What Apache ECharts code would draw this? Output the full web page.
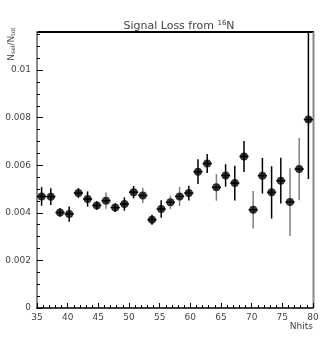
<!DOCTYPE html>
<html><head><meta charset="utf-8">
<script src="https://cdn.jsdelivr.net/npm/echarts@6/dist/echarts.min.js"></script>
<style>html,body{margin:0;padding:0;background:#fff}#c{width:327px;height:349px}</style>
</head><body><div id="c"></div>
<script>
var nhits = [35.75,37.25,38.75,40.25,41.75,43.25,44.75,46.25,47.75,49.25,50.75,52.25,53.75,55.25,56.75,58.25,59.75,61.25,62.75,64.25,65.75,67.25,68.75,70.25,71.75,73.25,74.75,76.25,77.75,79.25];
var ratio = [0.00469,0.00468,0.00401,0.00395,0.00483,0.00458,0.00431,0.00451,0.00422,0.00437,0.00487,0.00473,0.00371,0.00416,0.00444,0.00469,0.00483,0.00573,0.00607,0.00507,0.00557,0.00525,0.00637,0.00413,0.00556,0.00486,0.00535,0.00445,0.00584,0.00792];
var errLow = [0.00039,0.00035,0.00018,0.00032,0.00021,0.00032,0.00018,0.00034,0.00018,0.00028,0.00026,0.00032,0.00021,0.00037,0.00028,0.00040,0.00031,0.00052,0.00040,0.00056,0.00047,0.00073,0.00065,0.00079,0.00075,0.00110,0.00096,0.00142,0.00131,0.00250];
var errHigh = [0.00039,0.00035,0.00018,0.00032,0.00021,0.00032,0.00018,0.00034,0.00018,0.00028,0.00026,0.00032,0.00021,0.00037,0.00028,0.00040,0.00031,0.00052,0.00040,0.00056,0.00047,0.00073,0.00065,0.00079,0.00075,0.00110,0.00096,0.00142,0.00131,0.00400];
var binHalf = 0.75;
var yTicks = ['0','0.002','0.004','0.006','0.008','0.01'];

var greyIdx = {7:1,11:1,14:1,15:1,19:1,23:1,27:1,28:1};
var data = nhits.map(function(x,i){return [x, ratio[i], errLow[i], errHigh[i], i];});
var chart = echarts.init(document.getElementById('c'));
var lab = {color:'#444', fontFamily:'DejaVu Sans', fontSize:9};
chart.setOption({
  animation:false,
  title:{text:'Signal Loss from {s|16}N', left:174, top:15, textAlign:'center',
    textStyle:{fontFamily:'DejaVu Sans', fontSize:11, fontWeight:'normal', color:'#444',
      rich:{s:{fontSize:7, verticalAlign:'top', padding:[0,0,6,0], color:'#444', fontFamily:'DejaVu Sans'}}}},
  grid:{left:37, right:14, top:32, bottom:41, show:true, borderColor:'#000', borderWidth:0},
  xAxis:{type:'value', min:35, max:80, interval:5,
    axisLine:{show:true, lineStyle:{color:'#000', width:1.5}},
    axisTick:{show:true, inside:true, length:5, lineStyle:{color:'#000'}},
    minorTick:{show:true, splitNumber:5, length:3, lineStyle:{color:'#000'}},
    axisLabel:Object.assign({margin:5}, lab),
    splitLine:{show:false}},
  yAxis:{type:'value', min:0, max:0.0116, interval:0.002,
    axisLine:{show:true, lineStyle:{color:'#888', width:2}},
    axisTick:{show:true, inside:true, length:6, lineStyle:{color:'#000'}},
    minorTick:{show:true, splitNumber:4, length:3, lineStyle:{color:'#000'}},
    axisLabel:Object.assign({margin:6, showMaxLabel:false, formatter:function(v){
      var k = Math.round(v/0.002); return (k>=0 && k<yTicks.length && Math.abs(v-k*0.002)<1e-9) ? yTicks[k] : '';}}, lab),
    splitLine:{show:false}},
  graphic:[
    {type:'line', shape:{x1:37, y1:32, x2:314, y2:32}, style:{stroke:'#000', lineWidth:2}},
    {type:'line', shape:{x1:313.5, y1:32, x2:313.5, y2:308}, style:{stroke:'#888', lineWidth:2}},
    {type:'text', x:313, y:322, style:{text:'Nhits', font:'9px DejaVu Sans', fill:'#444', align:'right', verticalAlign:'top'}},
    {type:'text', x:12, y:44, rotation:Math.PI/2,
     style:{text:'N{s|sel}/N{s|tot}', font:'9px DejaVu Sans', fill:'#444', align:'center', verticalAlign:'middle',
       rich:{s:{fontSize:6, verticalAlign:'bottom', fill:'#444', fontFamily:'DejaVu Sans'}}}}
  ],
  series:[
    {type:'custom', data:data, clip:true, z:2,
     renderItem:function(params, api){
       var x = api.value(0), y = api.value(1), el = api.value(2), eh = api.value(3), i = api.value(4);
       var top = api.coord([x, y+eh]), bot = api.coord([x, y-el]);
       var l = api.coord([x-binHalf, y]), r = api.coord([x+binHalf, y]);
       var col = greyIdx[i] ? '#808080' : '#000';
       return {type:'group', children:[
         {type:'line', shape:{x1:top[0], y1:top[1], x2:bot[0], y2:bot[1]}, style:{stroke:col, lineWidth:1.5}},
         {type:'line', shape:{x1:l[0], y1:l[1], x2:r[0], y2:r[1]}, style:{stroke:'#000', lineWidth:1.5}}
       ]};
     }},
    {type:'scatter', data:data.map(function(d){return [d[0], d[1]];}), symbol:'circle', symbolSize:8,
     itemStyle:{color:'#000'}, z:3}
  ]
});
</script></body></html>
